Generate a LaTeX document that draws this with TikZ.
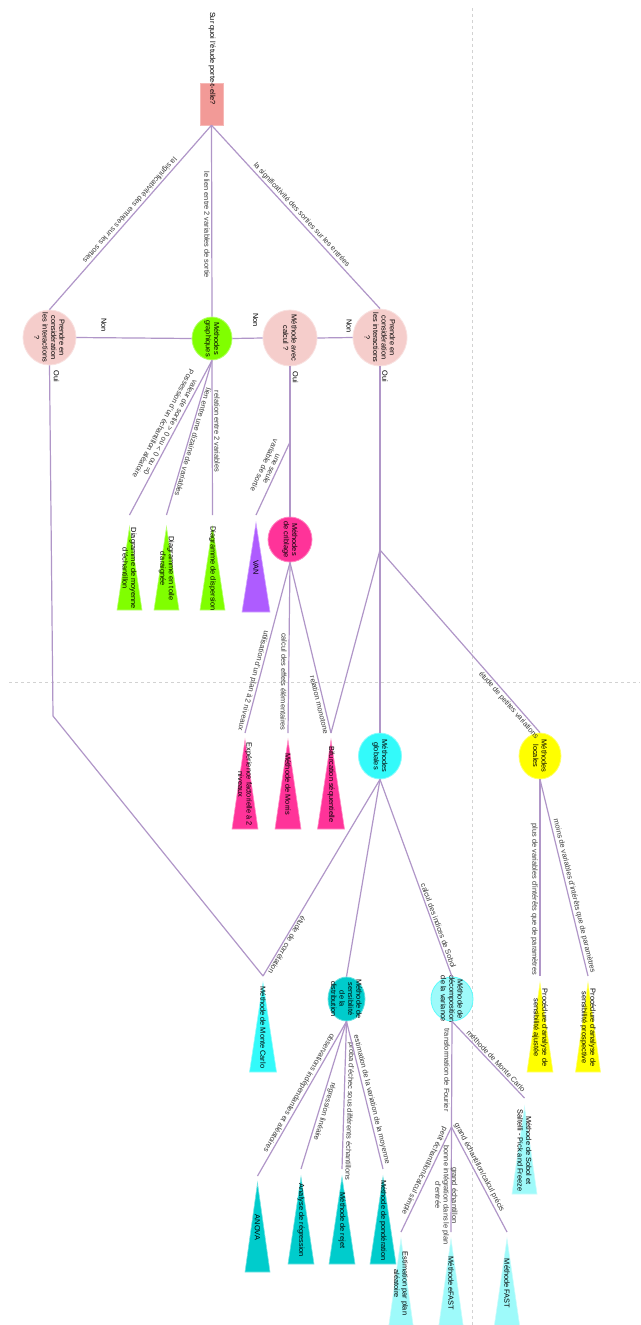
\documentclass[tikz,border=0pt]{standalone}
\usepackage{fontspec}
\setmainfont{Liberation Sans}
\usetikzlibrary{shapes.geometric}

\definecolor{edgec}{HTML}{B096C8}
\definecolor{guide}{HTML}{D2D2D2}
\definecolor{rootc}{HTML}{F29A97}
\definecolor{askc}{HTML}{F5CDCB}
\definecolor{grnc}{HTML}{80FF00}
\definecolor{vanc}{HTML}{AE5CFF}
\definecolor{pinkc}{HTML}{FF3399}
\definecolor{globc}{HTML}{33FAFA}
\definecolor{yelc}{HTML}{FFFF00}
\definecolor{tealc}{HTML}{00CCCC}
\definecolor{paleC}{HTML}{9EFAFA}
\definecolor{labc}{HTML}{3A3A3A}

\tikzset{
  every node/.style={font=\fontsize{7.4}{8.4}\selectfont},
  link/.style={draw=edgec, line width=1.2pt},
  guideline/.style={draw=guide, line width=0.8pt, dash pattern=on 3pt off 3pt},
  bubble/.style={ellipse, inner sep=0pt, line width=0.8pt},
  vtext/.style={rotate=-90, align=center, inner sep=0pt, text=black},
  elab/.style={sloped, allow upside down, inner sep=1.5pt, text=labc, align=center},
  yesno/.style={rotate=-90, inner sep=0pt, text=black},
}

% method leaf: name, centre x, apex y, base y, half width, colour, text, entry y
\newcommand\methtri[8]{%
  \filldraw[fill=#6, draw=#6!55!white, line width=0.6pt]
    (#2,#3) -- (#2+#5,#4) -- (#2-#5,#4) -- cycle;
  \node[vtext] (#1) at (#2,{(#3+#4)/2}) {#7};
  \coordinate (#1-in) at (#2,#8);
}

\begin{document}
\begin{tikzpicture}[x=1pt, y=-1pt]
\useasboundingbox (0,0) rectangle (640,1325);
\fill[white] (0,0) rectangle (640,1325);

% dashed guides
\draw[guideline] (472.5,8) -- (472.5,1325);
\draw[guideline] (9,682) -- (640,682);

% root question
\node[fill=rootc, draw=rootc!70!white, line width=0.5pt, minimum width=23pt, minimum height=42pt, inner sep=0pt] (root) at (211.5,104) {};
\node[vtext] (root-t) at (212,58.5) {Sur quoi l'étude porte-t-elle?};

% decision and family bubbles
\node[bubble, fill=askc, draw=askc!60!white, minimum width=53pt, minimum height=55pt] (lp) at (49.5,337.5) {};
\node[vtext] (lp-t) at (lp) {Prendre en\\considération\\les interactions\\?};
\node[bubble, fill=grnc, draw=grnc!60!white, minimum width=40pt, minimum height=43pt] (g) at (212,338.5) {};
\node[vtext] (g-t) at (g) {Méthodes\\graphiques};
\node[bubble, fill=askc, draw=askc!60!white, minimum width=54pt, minimum height=56pt] (mc) at (290,338) {};
\node[vtext] (mc-t) at (mc) {Méthode avec\\calcul ?};
\node[bubble, fill=askc, draw=askc!60!white, minimum width=54pt, minimum height=57pt] (rp) at (380,337.5) {};
\node[vtext] (rp-t) at (rp) {Prendre en\\considération\\les interactions\\?};
\node[bubble, fill=pinkc, draw=pinkc!60!white, minimum width=44pt, minimum height=45pt] (crib) at (290,539.5) {};
\node[vtext] (crib-t) at (crib) {Méthodes\\de criblage};
\node[bubble, fill=globc, draw=globc!60!white, minimum width=43pt, minimum height=46pt] (glob) at (380,756) {};
\node[vtext] (glob-t) at (glob) {Méthodes\\globales};
\node[bubble, fill=yelc, draw=yelc!60!white, minimum width=42pt, minimum height=46pt] (loc) at (540,756) {};
\node[vtext] (loc-t) at (loc) {Méthodes\\locales};
\node[bubble, fill=tealc, draw=tealc!60!white, minimum width=37pt, minimum height=44pt] (sd) at (346.5,999) {};
\node[vtext] (sd-t) at (sd) {Méthode de\\sensibilité\\de la\\distribution};
\node[bubble, fill=paleC, draw=globc!80!white, minimum width=42pt, minimum height=44pt] (dec) at (452,999) {};
\node[vtext] (dec-t) at (dec) {Méthode de\\décomposition\\de la variance};

% leaves
\methtri{moy}{129.5}{527}{610}{12.5}{grnc}{Diagramme de moyenne\\d'échantillon}{515}
\methtri{toile}{166.5}{527}{610}{12.5}{grnc}{Diagramme en toile\\d'araignée}{515}
\methtri{disp}{212.5}{527}{610}{12.5}{grnc}{Diagramme de dispersion}{515}
\methtri{van}{256}{523}{612}{14}{vanc}{VAN}{515}
\methtri{exp}{245}{740}{829}{13}{pinkc}{Expérience factorielle à 2\\niveaux}{733}
\methtri{mor}{288}{740}{829}{13}{pinkc}{Méthode de Morris}{733}
\methtri{bif}{331}{740}{829}{13.5}{pinkc}{Bifurcation séquentielle}{733}
\methtri{mcarlo}{263}{983}{1072}{13.5}{globc}{Méthode de Monte Carlo}{976}
\methtri{aj}{540}{983}{1072}{13}{yelc}{Procédure d'analyse de\\sensibilité ajustée}{976}
\methtri{pro}{588}{983}{1072}{12.5}{yelc}{Procédure d'analyse de\\sensibilité prospective}{976}
\methtri{anova}{257.5}{1183}{1272}{12.5}{tealc}{ANOVA}{1176}
\methtri{regr}{301}{1177}{1264}{13}{tealc}{Analyse de régression}{1169}
\methtri{rej}{342}{1177}{1264}{13}{tealc}{Méthode de rejet}{1169}
\methtri{pond}{383}{1177}{1264}{13}{tealc}{Méthode de pondération}{1169}
\methtri{sobol}{524.5}{1107}{1194}{12.5}{paleC}{Méthode de Sobol et\\Saltelli - Pick and Freeze}{1098}
\methtri{est}{401}{1239}{1328}{12.5}{paleC}{Estimation par plan\\aléatoire}{1232}
\methtri{efast}{451}{1239}{1328}{12.5}{paleC}{Méthode eFAST}{1232}
\methtri{fast}{507}{1239}{1328}{13}{paleC}{Méthode FAST}{1232}

% bend and branch points
\coordinate (vanbend) at (290,442);
\coordinate (b1) at (380,550);
\coordinate (lpbend) at (53,716);
\coordinate (b2) at (451.5,1127);

% first question
\draw[link] (root.south) -- node[elab, below, pos=.48] {la significativité des entrées sur les sorties} (lp.north);
\draw[link] (root.south) -- node[elab, below, pos=.52] {le lien entre 2 variables de sortie} (g.north);
\draw[link] (root.south) -- node[elab, above, pos=.51] {la significativité des sorties sur les entrées} (rp.north);

% Non branches
\draw[link] (lp.east) -- node[at start, xshift=27.5pt, yshift=12.5pt, yesno] {Non} (g.west);
\draw[link] (mc.west) -- node[at start, xshift=-7pt, yshift=18pt, yesno] {Non} (g.east);
\draw[link] (rp.west) -- node[at start, xshift=-3.5pt, yshift=11.5pt, yesno] {Non} (mc.east);

% Oui branches
\draw[link] (lp.south) -- node[at start, xshift=7pt, yshift=-11pt, yesno] {Oui} (lpbend) -- (mcarlo-in);
\draw[link] (mc.south) -- node[at start, xshift=5.5pt, yshift=-11pt, yesno] {Oui} (crib.north);
\draw[link] (mc.south) -- (vanbend) -- node[elab, below, pos=.4] {une seule\\variable de sortie} (van-in);
\draw[link] (rp.south) -- node[at start, xshift=5pt, yshift=-10pt, yesno] {Oui} (b1);
\draw[link] (b1) -- (bif-in);
\draw[link] (b1) -- (glob.north);
\draw[link] (b1) -- node[elab, below, pos=.83] {étude de petites variations} (loc.north);

% graphical methods
\draw[link] (g.south) -- node[elab, below, pos=.45] {valeur de sortie > 0 ou < 0 ou =0\\Possession d'un échantillon aléatoire} (moy-in);
\draw[link] (g.south) -- node[elab, above, pos=.52] {lien entre une dizaine de variables} (toile-in);
\draw[link] (g.south) -- node[elab, above, pos=.46] {relation entre 2 variables} (disp-in);

% screening methods
\draw[link] (crib.south) -- node[elab, below, pos=.70] {utilisation d'un plan à 2 niveaux} (exp-in);
\draw[link] (crib.south) -- node[elab, below, pos=.70] {calcul des effets élémentaires} (mor-in);
\draw[link] (crib.south) -- node[elab, below, pos=.83] {relation monotone} (bif-in);

% global methods
\draw[link] (glob.south) -- node[elab, above, pos=.83] {étude de corrélation} (mcarlo-in);
\draw[link] (glob.south) -- (sd.north);
\draw[link] (glob.south) -- node[elab, above, pos=.75] {calcul des indices de Sobol} (dec.north);

% local methods
\draw[link] (loc.south) -- node[elab, below, pos=.61] {plus de variables d'intérêts que de paramètres} (aj-in);
\draw[link] (loc.south) -- node[elab, above, pos=.6] {moins de variables d'intérêts que de paramètres} (pro-in);

% distribution sensitivity
\draw[link] (sd.south) -- node[elab, below, pos=.48] {observations indépendantes et aléatoires} (anova-in);
\draw[link] (sd.south) -- node[elab, above, pos=.6] {régression linéaire} (regr-in);
\draw[link] (sd.south) -- node[elab, above, pos=.61] {proba d'échec sous différents échantillons} (rej-in);
\draw[link] (sd.south) -- node[elab, above, pos=.54] {estimation de la variation de la moyenne} (pond-in);

% variance decomposition
\draw[link] (dec.south) -- node[elab, below, pos=.46] {transformation de Fourier} (b2);
\draw[link] (b2) -- node[elab, below, pos=.44] {petit échantillon/calcul simple} (est-in);
\draw[link] (b2) -- node[elab, below=-8.5pt, pos=.65] {grand échantillon\\bonne intégration dans le plan\\d'entrée} (efast-in);
\draw[link] (b2) -- node[elab, above, pos=.41] {grand échantillon/calcul précis} (fast-in);
\draw[link] (dec.south) -- node[elab, above, pos=.56] {méthode de Monte Carlo} (sobol-in);
\end{tikzpicture}
\end{document}
